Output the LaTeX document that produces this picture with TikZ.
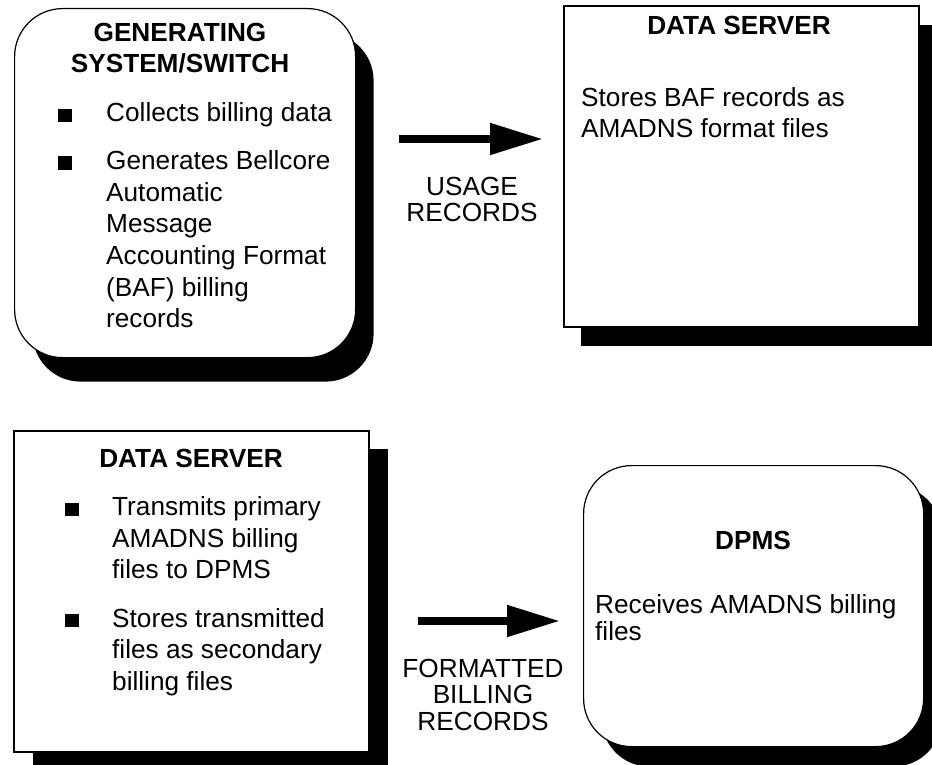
\documentclass[tikz,border=0pt]{standalone}
\usepackage{fontspec}
\setmainfont{Liberation Sans}
\usetikzlibrary{arrows.meta,shadows}

\tikzset{
  card/.style={draw=black, fill=white, line width=1.6pt, inner sep=0pt,
    anchor=north west},
  roundcard/.style={card, line width=1.2pt, rounded corners=48pt},
  blackshadow/.style 2 args={drop shadow={shadow xshift=#1pt, shadow yshift=-#2pt,
    fill=black, opacity=1, draw=none}},
  headtext/.style={inner sep=0pt, anchor=base,
    font=\bfseries\fontsize{26.2}{31.6}\selectfont},
  bodytext/.style={inner sep=0pt, anchor=base west,
    font=\fontsize{26.2}{31.6}\selectfont},
  flowtext/.style={inner sep=0pt, anchor=base,
    font=\fontsize{26.2}{27}\selectfont},
  bulletsq/.style={fill=black, inner sep=0pt, minimum size=13.5pt,
    anchor=south west},
  flow/.style={line width=8pt, -{Triangle[length=53pt,width=30pt]}},
}

\begin{document}
\begin{tikzpicture}[x=1pt,y=-1pt]
\clip (0,0) rectangle (932,765);
\fill[white] (0,0) rectangle (932,765);

% ---- boxes ----
\node[roundcard, blackshadow={18}{24}, minimum width=341pt, minimum height=349pt]
  (gen) at (14,8) {};
\node[card, blackshadow={17}{19}, minimum width=355pt, minimum height=321pt]
  (store) at (563,5) {};
\node[card, blackshadow={19}{18}, minimum width=355pt, minimum height=321pt]
  (send) at (13,430) {};
\node[roundcard, blackshadow={18}{20}, minimum width=340pt, minimum height=281pt]
  (dpms) at (583,465) {};

% ---- generating system / switch ----
\node[headtext] (gen-h1) at (180,42) {GENERATING};
\node[headtext] (gen-h2) at (180,73) {SYSTEM/SWITCH};
\node[bulletsq] (gen-b1) at (58,122.5) {};
\node[bulletsq] (gen-b2) at (58,170) {};
\node[bodytext] (gen-l1) at (106,122) {Collects billing data};
\node[bodytext] (gen-l2) at (106,169.5) {Generates Bellcore};
\node[bodytext] (gen-l3) at (106,201) {Automatic};
\node[bodytext] (gen-l4) at (106,232.5) {Message};
\node[bodytext] (gen-l5) at (106,264) {Accounting Format};
\node[bodytext] (gen-l6) at (106,296) {(BAF) billing};
\node[bodytext] (gen-l7) at (106,327.5) {records};

% ---- data server (storing) ----
\node[headtext] (store-h) at (739,35) {DATA SERVER};
\node[bodytext] (store-l1) at (581,107) {Stores BAF records as};
\node[bodytext] (store-l2) at (581,138) {AMADNS format files};

% ---- data server (transmitting) ----
\node[headtext] (send-h) at (191,467) {DATA SERVER};
\node[bulletsq] (send-b1) at (65,516.5) {};
\node[bulletsq] (send-b2) at (65,627.5) {};
\node[bodytext] (send-l1) at (112,515) {Transmits primary};
\node[bodytext] (send-l2) at (112,547) {AMADNS billing};
\node[bodytext] (send-l3) at (112,578) {files to DPMS};
\node[bodytext] (send-l4) at (112,627) {Stores transmitted};
\node[bodytext] (send-l5) at (112,658) {files as secondary};
\node[bodytext] (send-l6) at (112,690) {billing files};

% ---- DPMS ----
\node[headtext] (dpms-h) at (753,549) {DPMS};
\node[bodytext] (dpms-l1) at (595,613) {Receives AMADNS billing};
\node[bodytext] (dpms-l2) at (595,640) {files};

% ---- flows ----
\coordinate (lvl-top) at (0,139);
\coordinate (lvl-bot) at (0,621);
\draw[flow, shorten <=43pt, shorten >=20pt]
  (gen.east |- lvl-top) -- (store.west |- lvl-top);
\draw[flow, shorten <=48pt, shorten >=23pt]
  (send.east |- lvl-bot) -- (dpms.west |- lvl-bot);

\node[flowtext] (usage-1) at (472,195) {USAGE};
\node[flowtext] (usage-2) at (472,222) {RECORDS};
\node[flowtext] (fmt-1) at (483,677) {FORMATTED};
\node[flowtext] (fmt-2) at (483,703.5) {BILLING};
\node[flowtext] (fmt-3) at (483,730) {RECORDS};
\end{tikzpicture}
\end{document}
